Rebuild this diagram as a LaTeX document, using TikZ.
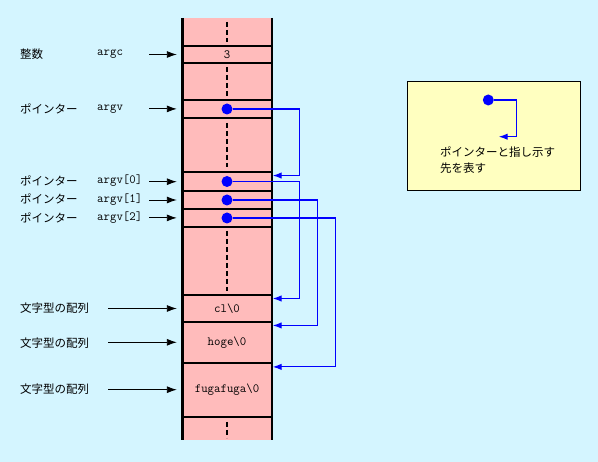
\documentclass[tikz,border=0pt]{standalone}
\usepackage{fontspec}
\newfontfamily\jp{Noto Sans CJK JP}
\usetikzlibrary{arrows.meta}
\definecolor{bgcyan}{RGB}{212,245,255}
\definecolor{stackpink}{RGB}{255,187,187}
\definecolor{noteyellow}{RGB}{255,255,192}
\tikzset{
	cell/.style={draw, line width=2pt, minimum width=89.4pt, inner sep=0pt, font=\ttfamily\fontsize{12.5}{14}\selectfont},
	lbl/.style={anchor=west, inner sep=0pt, font=\jp\fontsize{11.5}{16.6}\selectfont},
	var/.style={anchor=west, inner sep=0pt, font=\ttfamily\fontsize{12.5}{14}\selectfont},
	dot/.style={circle, fill=blue, minimum size=11pt, inner sep=0pt},
	into/.style={-{Latex[length=10pt,width=7pt]}, line width=0.9pt, shorten >=4.5pt},
	ptr/.style={blue, line width=1.2pt, -{Latex[length=9pt,width=6.5pt]}},
	gap/.style={line width=1.1pt, dash pattern=on 5pt off 3pt}
}

\begin{document}
\begin{tikzpicture}[x=1pt, y=-1pt]
			%%%%% START %%%%%
			\useasboundingbox[fill=bgcyan] (0,0) rectangle (598,462);
			
			% stack column
			\fill[stackpink] (182.3,18) rectangle (271.7,440);
			
			\node[cell, minimum height=17.6pt] (cc) at (227,54.5) {3};
			\node[cell, minimum height=17.7pt] (cv) at (227,108.9) {};
			\node[cell, minimum height=18.7pt] (cv0) at (227,181.7) {};
			\node[cell, minimum height=18pt] (cv1) at (227,200) {};
			\node[cell, minimum height=17.7pt] (cv2) at (227,217.9) {};
			\node[cell, minimum height=27pt] (ccl) at (227,308.5) {cl\textbackslash 0};
			\node[cell, minimum height=40.7pt] (choge) at (227,342.3) {hoge\textbackslash 0};
			\node[cell, minimum height=54pt] (cfuga) at (227,389.7) {fugafuga\textbackslash 0};
			
			\draw[line width=2.4pt] (182.3,18) -- (182.3,440);
			\draw[line width=2.4pt] (271.7,18) -- (271.7,440);
			
			\draw[gap] (227,22) -- (227,42);
			\draw[gap] (227,67) -- (227,96);
			\draw[gap] (227,123) -- (227,167);
			\draw[gap] (227,231) -- (227,291);
			\draw[gap] (227,422) -- (227,438);
			
			% labels
			\node[lbl] (lc) at (20,54) {整数};
			\node[var] (vc) at (97,54) {argc};
			\node[lbl] (lv) at (20,109) {ポインター};
			\node[var] (vv) at (97,109) {argv};
			\node[lbl] (lv0) at (20,181) {ポインター};
			\node[var] (vv0) at (97,181) {argv[0]};
			\node[lbl] (lv1) at (20,199.3) {ポインター};
			\node[var] (vv1) at (97,199.3) {argv[1]};
			\node[lbl] (lv2) at (20,217.7) {ポインター};
			\node[var] (vv2) at (97,217.7) {argv[2]};
			\node[lbl] (lcl) at (20,308) {文字型の配列};
			\node[lbl] (lhoge) at (20,343) {文字型の配列};
			\node[lbl] (lfuga) at (20,389.3) {文字型の配列};
			
			\coordinate (tc) at (149,54.5);
			\coordinate (tv) at (149,108.9);
			\coordinate (tv0) at (149,181.7);
			\coordinate (tv1) at (149,200);
			\coordinate (tv2) at (149,217.9);
			\coordinate (tcl) at (108,308.5);
			\coordinate (thoge) at (108,342.3);
			\coordinate (tfuga) at (108,389.7);
			
			\draw[into] (tc) -- (cc.west);
			\draw[into] (tv) -- (cv.west);
			\draw[into] (tv0) -- (cv0.west);
			\draw[into] (tv1) -- (cv1.west);
			\draw[into] (tv2) -- (cv2.west);
			\draw[into] (tcl) -- (ccl.west);
			\draw[into] (thoge) -- (choge.west);
			\draw[into] (tfuga) -- (cfuga.west);
			
			% pointers
			\node[dot] (dv) at (227,109) {};
			\node[dot] (d0) at (227,181.5) {};
			\node[dot] (d1) at (227,200) {};
			\node[dot] (d2) at (227,218) {};
			
			\draw[ptr] (dv.east) -- ++(66.5,0) |- ([yshift=-4.2pt]cv0.north east);
			\draw[ptr] (d0.east) -- ++(66.5,0) |- ([yshift=-4.5pt]ccl.north east);
			\draw[ptr] (d1.east) -- ++(84.5,0) |- ([yshift=-4.5pt]choge.north east);
			\draw[ptr] (d2.east) -- ++(102.5,0) |- ([yshift=-5.2pt]cfuga.north east);
			
			% note
			\node[draw, line width=0.9pt, fill=noteyellow, minimum width=172.7pt, minimum height=109pt, inner sep=0pt] (note) at (493.7,135.5) {};
			\node[dot] (ndot) at (488.3,100) {};
			\coordinate (ntip) at (498.7,136.7);
			\draw[ptr] (ndot.east) -- ++(22.5,0) |- (ntip);
			\node[lbl, align=left] (ntext) at (440,160) {ポインターと指し示す\\先を表す};
			
			%%%%% END %%%%%
\end{tikzpicture}
\end{document}
